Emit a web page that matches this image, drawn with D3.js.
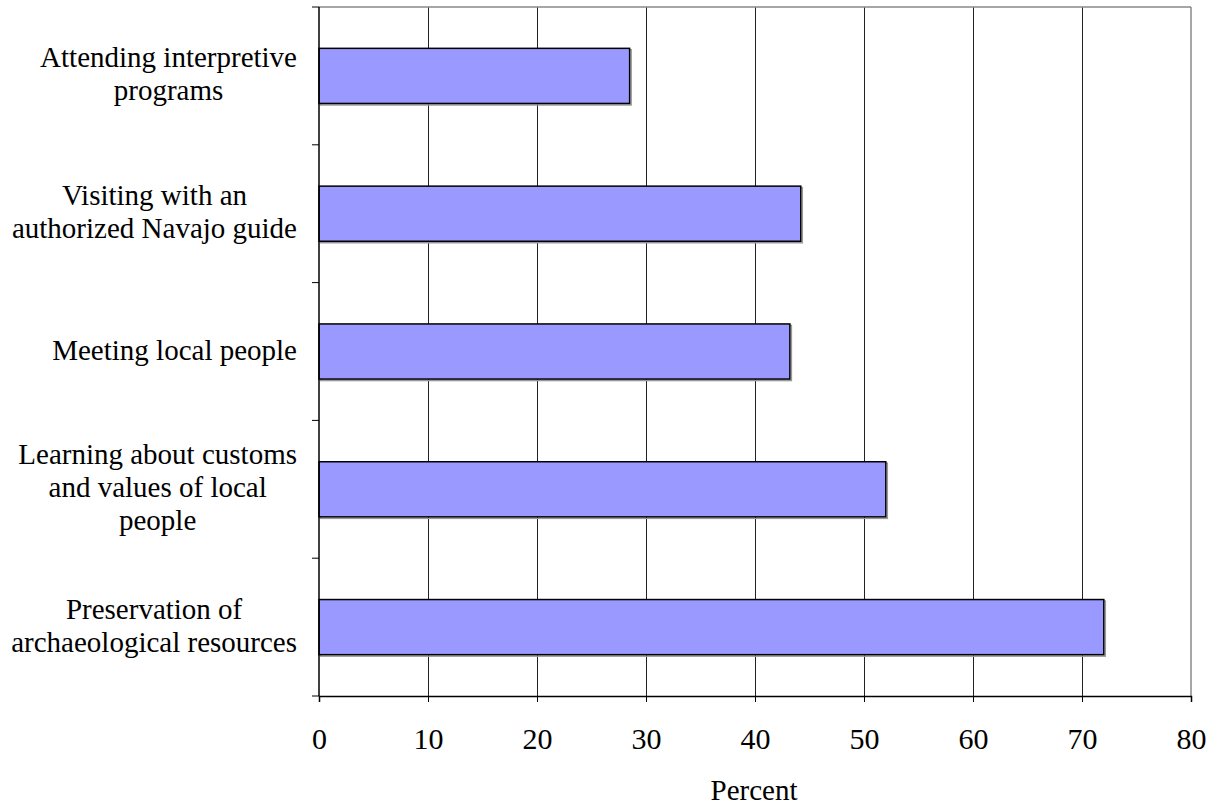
<!DOCTYPE html>
<html>
<head>
<meta charset="utf-8">
<script src="https://cdn.jsdelivr.net/npm/d3@7"></script>
<style>
  html, body { margin: 0; padding: 0; background: #fff; }
  svg { display: block; }
  text { font-family: "Liberation Serif", "Times New Roman", serif; fill: #000; }
</style>
</head>
<body>
<svg id="chart" width="1215" height="806"></svg>
<script>
// Activities rated by respondents (top to bottom)
const categories = [
  "Attending interpretive programs",
  "Visiting with an authorized Navajo guide",
  "Meeting local people",
  "Learning about customs and values of local people",
  "Preservation of archaeological resources"
];
// Wrapped label lines for each category
const labelLines = [
  ["Attending interpretive", "programs"],
  ["Visiting with an", "authorized Navajo guide"],
  ["Meeting local people"],
  ["Learning about customs", "and values of local", "people"],
  ["Preservation of", "archaeological resources"]
];
const percents = [28.5, 44.2, 43.2, 52.0, 72.0];
const xTicks = [0, 10, 20, 30, 40, 50, 60, 70, 80];
const xTitle = "Percent";

const plot = { left: 319, right: 1191, top: 7, bottom: 696 };
const fontSize = 29;

const svg = d3.select("#chart");

const x = d3.scaleLinear().domain([0, 80]).range([plot.left, plot.right]);
const y = d3.scaleBand().domain(categories).range([plot.top, plot.bottom])
  .paddingInner(0.6).paddingOuter(0.3);

// Vertical gridlines
svg.append("g").selectAll("line").data(xTicks.slice(1, -1)).join("line")
  .attr("x1", d => x(d)).attr("x2", d => x(d))
  .attr("y1", plot.top).attr("y2", plot.bottom)
  .attr("stroke", "#222").attr("stroke-width", 1).attr("shape-rendering", "crispEdges");

// Top and right frame
svg.append("line").attr("x1", plot.left).attr("x2", plot.right)
  .attr("y1", plot.top).attr("y2", plot.top)
  .attr("stroke", "#888").attr("stroke-width", 1.5);
svg.append("line").attr("x1", plot.right).attr("x2", plot.right)
  .attr("y1", plot.top).attr("y2", plot.bottom)
  .attr("stroke", "#888").attr("stroke-width", 1.5);

// Bar shadows
svg.append("g").selectAll("rect").data(categories).join("rect")
  .attr("x", plot.left + 1.5)
  .attr("y", (d) => y(d) + 1.5)
  .attr("width", (d, i) => x(percents[i]) - x(0))
  .attr("height", y.bandwidth())
  .attr("fill", "none").attr("stroke", "#999").attr("stroke-width", 1.5);

// Bars
svg.append("g").selectAll("rect").data(categories).join("rect")
  .attr("x", x(0))
  .attr("y", d => y(d))
  .attr("width", (d, i) => x(percents[i]) - x(0))
  .attr("height", y.bandwidth())
  .attr("fill", "#9999FF").attr("stroke", "#000").attr("stroke-width", 1.5);

// X axis
const xAxis = svg.append("g")
  .attr("transform", `translate(0,${plot.bottom})`)
  .call(d3.axisBottom(x).tickValues(xTicks).tickSize(6).tickPadding(26).tickFormat(d3.format("d")));
xAxis.select(".domain").attr("stroke", "#000").attr("stroke-width", 1.5);
xAxis.selectAll(".tick line").attr("stroke", "#000");
xAxis.selectAll(".tick text")
  .style("font-family", '"Liberation Serif", "Times New Roman", serif')
  .style("font-size", "30px").attr("fill", "#000");

// Y axis with ticks at category boundaries
const boundaries = d3.range(categories.length + 1);
const step = (plot.bottom - plot.top) / categories.length;
svg.append("line").attr("x1", plot.left).attr("x2", plot.left)
  .attr("y1", plot.top).attr("y2", plot.bottom)
  .attr("stroke", "#000").attr("stroke-width", 1.5);
svg.append("g").selectAll("line").data(boundaries).join("line")
  .attr("x1", plot.left - 7).attr("x2", plot.left)
  .attr("y1", d => plot.top + d * step).attr("y2", d => plot.top + d * step)
  .attr("stroke", "#000").attr("stroke-width", 1);

// Category labels: lines centered within a block whose right edge sits near the axis
const labelRight = 297;
const lineGap = 33;
const labels = svg.append("g");
categories.forEach((c, i) => {
  const lines = labelLines[i];
  const g = labels.append("g");
  const cy = y(c) + y.bandwidth() / 2 - 2;
  const texts = g.selectAll("text").data(lines).join("text")
    .attr("text-anchor", "middle")
    .attr("dominant-baseline", "central")
    .style("font-size", fontSize + "px")
    .attr("y", (d, j) => cy + (j - (lines.length - 1) / 2) * lineGap)
    .text(d => d);
  let maxW = 0;
  texts.each(function () { maxW = Math.max(maxW, this.getComputedTextLength()); });
  texts.attr("x", labelRight - maxW / 2);
});

// Axis title
svg.append("text")
  .attr("x", (plot.left + plot.right) / 2 - 1)
  .attr("y", 790)
  .attr("text-anchor", "middle")
  .attr("dominant-baseline", "central")
  .style("font-size", fontSize + "px")
  .text(xTitle);
</script>
</body>
</html>
